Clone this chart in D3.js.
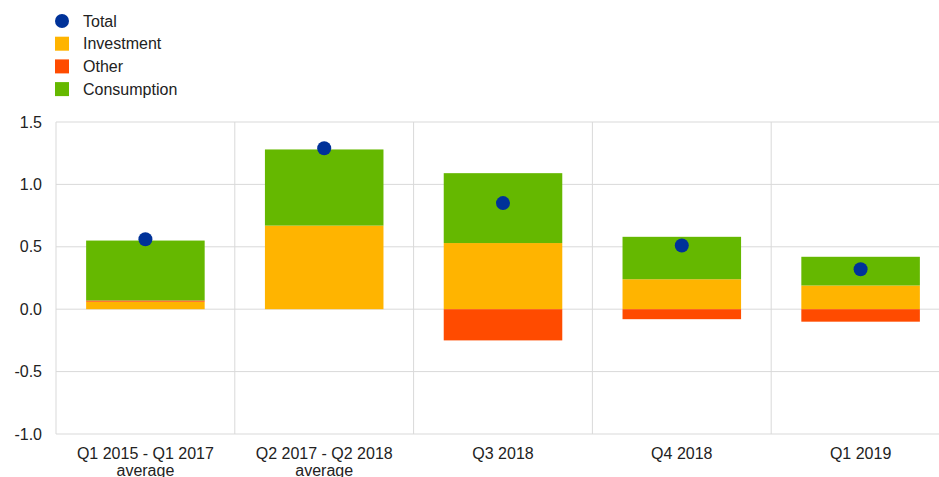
<!DOCTYPE html>
<html>
<head>
<meta charset="utf-8">
<script src="https://cdn.jsdelivr.net/npm/d3@7"></script>
<style>
  html, body { margin: 0; padding: 0; background: #fff; }
  svg { display: block; font-family: Arial, "Liberation Sans", sans-serif; }
</style>
</head>
<body>
<svg id="chart" width="939" height="477"></svg>
<script>
const categories = [["Q1 2015 - Q1 2017", "average"], ["Q2 2017 - Q2 2018", "average"], ["Q3 2018"], ["Q4 2018"], ["Q1 2019"]];
const investment = [0.06, 0.67, 0.53, 0.24, 0.19];
const other = [0.01, 0.0, -0.25, -0.08, -0.10];
const consumption = [0.48, 0.61, 0.56, 0.34, 0.23];
const total = [0.56, 1.29, 0.85, 0.51, 0.32];
const yTicks = [-1.0, -0.5, 0.0, 0.5, 1.0, 1.5];

const seriesNames = ["Investment", "Other", "Consumption"];
const seriesValues = [investment, other, consumption];
const colors = { Total: "#003299", Investment: "#ffb400", Other: "#ff4b00", Consumption: "#65b800" };

const svg = d3.select("#chart");
const pLeft = 56, pRight = 950, pTop = 122, pBottom = 434;

const x = d3.scaleBand().domain(d3.range(categories.length)).range([pLeft, pRight])
  .paddingInner(0.337).paddingOuter(0.1685);
const y = d3.scaleLinear().domain([-1.0, 1.5]).range([pBottom, pTop]);
const step = x.step();

// gridlines
const grid = svg.append("g");
grid.selectAll("line.h").data(yTicks).join("line")
  .attr("x1", pLeft).attr("x2", pRight)
  .attr("y1", d => y(d)).attr("y2", d => y(d))
  .attr("stroke", "#d9d9d9").attr("stroke-width", 1);
grid.selectAll("line.v").data(d3.range(categories.length + 1)).join("line")
  .attr("x1", i => pLeft + i * step).attr("x2", i => pLeft + i * step)
  .attr("y1", pTop).attr("y2", pBottom)
  .attr("stroke", "#d9d9d9").attr("stroke-width", 1);

// y axis labels
const fmt = d3.format(".1f");
const yAxis = d3.axisLeft(y).tickValues(yTicks).tickFormat(d => fmt(d).replace("\u2212", "-")).tickSize(0).tickPadding(14);
const ya = svg.append("g").attr("transform", `translate(${pLeft},0)`).call(yAxis);
ya.select(".domain").remove();
ya.selectAll("text").attr("font-size", 16).attr("fill", "#222").attr("font-family", "Arial, 'Liberation Sans', sans-serif");

// stacked bars (positive and negative stacked separately)
const rects = [];
categories.forEach((c, i) => {
  let pos = 0, neg = 0;
  seriesNames.forEach((name, s) => {
    const v = seriesValues[s][i];
    if (v >= 0) { rects.push({ i, name, y0: pos, y1: pos + v }); pos += v; }
    else { rects.push({ i, name, y0: neg + v, y1: neg }); neg += v; }
  });
});
svg.append("g").selectAll("rect").data(rects.filter(d => d.y1 - d.y0 > 0)).join("rect")
  .attr("x", d => x(d.i)).attr("width", x.bandwidth())
  .attr("y", d => y(d.y1)).attr("height", d => y(d.y0) - y(d.y1))
  .attr("fill", d => colors[d.name]);

// total dots
svg.append("g").selectAll("circle").data(total).join("circle")
  .attr("cx", (d, i) => x(i) + x.bandwidth() / 2).attr("cy", d => y(d))
  .attr("r", 7).attr("fill", colors.Total);

// x labels
const xl = svg.append("g");
categories.forEach((lines, i) => {
  const cx = x(i) + x.bandwidth() / 2;
  const t = xl.append("text").attr("x", cx).attr("y", 459)
    .attr("text-anchor", "middle").attr("font-size", 16).attr("fill", "#222");
  lines.forEach((ln, k) => t.append("tspan").attr("x", cx).attr("dy", k === 0 ? 0 : 17).text(ln));
});

// legend
const legendItems = ["Total", "Investment", "Other", "Consumption"];
const lg = svg.append("g");
legendItems.forEach((name, k) => {
  const cy = 21 + k * 22.7;
  if (name === "Total") {
    lg.append("circle").attr("cx", 62).attr("cy", cy).attr("r", 7).attr("fill", colors[name]);
  } else {
    lg.append("rect").attr("x", 55).attr("y", cy - 7).attr("width", 14).attr("height", 14).attr("fill", colors[name]);
  }
  lg.append("text").attr("x", 83).attr("y", cy).attr("dy", "0.35em")
    .attr("font-size", 16).attr("fill", "#222").text(name);
});
</script>
</body>
</html>
